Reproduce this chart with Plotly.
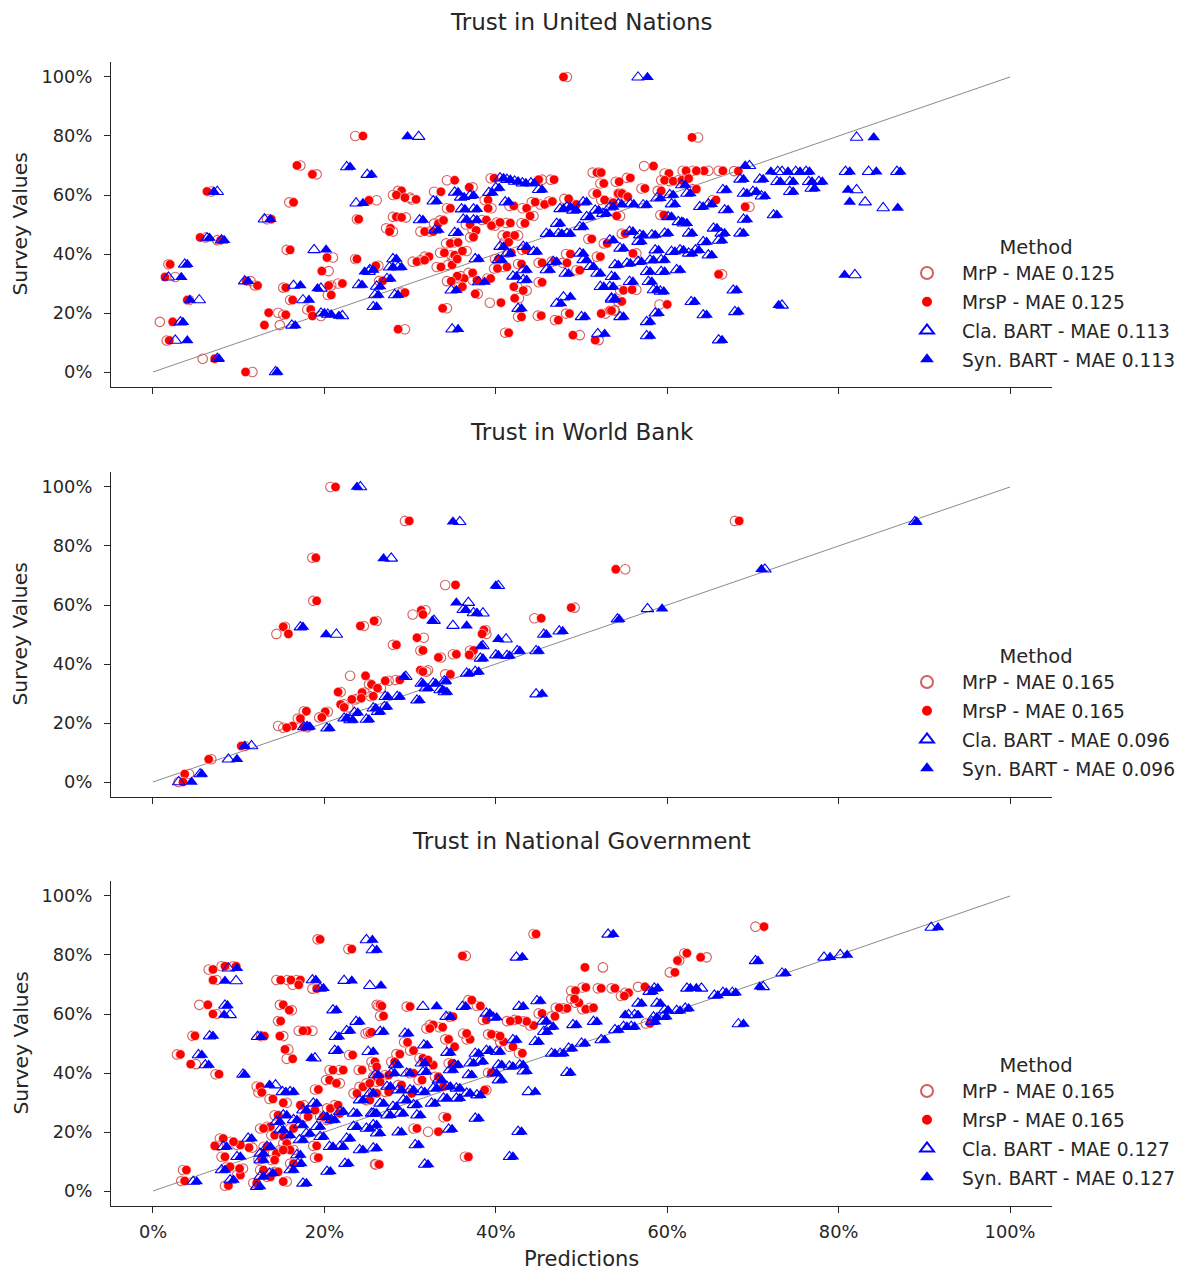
import plotly.graph_objects as go

# ---------------- data (values in percent) ----------------
TICKS = [0, 20, 40, 60, 80, 100]
TICK_LABELS = ["0%", "20%", "40%", "60%", "80%", "100%"]
DIAG = [0, 100]

PANEL_TITLES = ["Trust in United Nations", "Trust in World Bank", "Trust in National Government"]
MAE_MRP = ["0.125", "0.165", "0.165"]
MAE_MRSP = ["0.125", "0.165", "0.165"]
MAE_CLA = ["0.113", "0.096", "0.127"]
MAE_SYN = ["0.113", "0.096", "0.127"]

# rows: (survey value, MrP prediction, MrsP prediction)
UN_RED = [
    (80.0, 23.6, 24.5), (70.0, 17.2, 16.8), (67.0, 19.1, 18.6), (61.2, 6.8, 6.3), (57.5, 15.9, 16.4),
    (58.2, 26.1, 25.2), (51.8, 23.8, 24.0), (51.8, 13.3, 13.8), (45.6, 6.1, 5.5), (44.7, 7.5, 7.9),
    (41.4, 15.6, 16.0), (38.8, 21.0, 20.3), (36.5, 1.8, 2.0), (32.2, 2.6, 1.4), (38.3, 23.6, 23.8),
    (34.2, 20.5, 19.7), (30.8, 11.4, 10.9), (29.3, 11.9, 12.2), (28.6, 15.2, 15.5), (29.3, 20.8, 20.5),
    (30.0, 21.6, 22.1), (24.4, 4.2, 4.0), (24.4, 16.0, 16.3), (26.1, 20.4, 20.8), (20.1, 14.6, 13.5),
    (19.4, 15.2, 15.5), (21.2, 18.0, 18.4), (19.0, 19.6, 18.6), (17.0, 0.8, 2.3), (15.9, 14.8, 13.0),
    (10.7, 1.6, 1.9), (4.5, 5.8, 7.2), (0.0, 11.6, 10.8),
    (100.0, 48.3, 47.9), (65.7, 39.4, 39.8), (65.2, 45.4, 45.0), (65.2, 46.4, 46.8), (65.0, 34.3, 35.2),
    (62.6, 37.3, 36.9), (61.4, 28.6, 29.0), (60.0, 28.0, 28.4), (59.1, 30.0, 29.4), (58.5, 30.2, 30.7),
    (61.1, 32.8, 33.6), (55.5, 34.3, 34.7), (58.3, 38.7, 39.1), (55.5, 39.5, 39.1), (56.3, 41.6, 42.1),
    (55.5, 43.1, 43.6), (52.9, 44.4, 44.0), (57.6, 44.2, 44.6), (56.8, 45.2, 45.7), (57.8, 46.2, 46.6),
    (58.7, 48.0, 48.5), (56.8, 49.0, 49.4), (50.4, 43.0, 43.4), (50.5, 41.2, 41.7), (46.3, 40.8, 41.3),
    (46.3, 42.6, 42.2), (44.0, 41.0, 41.5), (51.5, 38.4, 38.9), (49.6, 39.9, 39.5), (50.7, 40.1, 40.5),
    (50.0, 36.5, 37.0), (48.0, 37.3, 37.7), (45.7, 37.0, 37.4), (50.3, 32.8, 33.3), (51.4, 33.5, 33.9),
    (47.6, 31.2, 31.7), (47.6, 32.3, 32.7), (48.7, 27.2, 27.7), (47.6, 28.0, 27.6), (52.6, 28.0, 28.4),
    (52.4, 29.5, 29.0), (43.6, 34.2, 34.7), (43.9, 35.1, 35.6), (40.4, 33.5, 34.0), (39.6, 34.8, 35.2),
    (41.0, 36.6, 36.1), (39.1, 31.7, 32.2), (35.6, 33.1, 33.6), (37.4, 30.3, 30.8), (37.9, 31.2, 31.7),
    (36.3, 34.4, 34.9), (38.3, 35.1, 35.5), (31.7, 35.8, 36.3), (32.5, 35.9, 35.5), (30.8, 34.3, 34.8),
    (28.9, 35.7, 36.1), (33.6, 36.8, 37.3), (31.1, 37.3, 37.8), (31.7, 39.0, 39.4), (35.1, 39.8, 40.2),
    (35.6, 40.9, 41.3), (38.3, 39.9, 40.3), (40.4, 41.4, 41.8), (36.6, 42.6, 43.0), (41.4, 43.1, 43.5),
    (37.0, 45.0, 45.4), (37.4, 46.5, 46.9), (37.0, 47.8, 48.3), (40.0, 48.2, 48.7), (34.5, 49.4, 49.8),
    (30.4, 45.0, 45.4), (28.9, 42.5, 42.1), (27.6, 43.6, 43.2), (25.0, 42.7, 42.2), (23.5, 39.3, 40.6),
    (18.7, 42.6, 43.0), (19.1, 44.9, 45.3), (17.6, 46.9, 47.3), (19.8, 48.2, 48.6), (13.3, 41.1, 41.5),
    (12.5, 49.8, 49.0), (21.6, 34.3, 33.8), (26.5, 37.9, 37.6), (14.5, 29.4, 28.6), (36.0, 26.3, 26.0),
    (30.9, 26.4, 26.8), (26.9, 29.0, 29.4), (67.6, 51.3, 51.8), (67.6, 52.0, 52.3), (63.9, 52.2, 52.6),
    (60.5, 51.4, 51.8), (58.3, 52.3, 52.7), (57.4, 53.3, 53.7), (60.5, 54.7, 54.3), (45.1, 50.8, 51.2),
    (39.1, 51.8, 52.2), (43.6, 52.6, 53.0), (19.8, 52.8, 52.3), (20.9, 53.8, 53.3), (10.8, 52.0, 51.6),
    (79.5, 63.6, 62.9), (69.8, 57.3, 58.4), (67.3, 59.7, 60.2), (68.2, 61.8, 62.2), (68.2, 64.8, 64.3),
    (68.2, 63.0, 63.4), (68.2, 66.0, 66.5), (68.1, 67.8, 68.3), (65.0, 59.3, 59.7), (64.7, 60.3, 60.7),
    (65.0, 61.3, 61.7), (65.6, 62.1, 62.5), (62.0, 63.0, 63.4), (62.2, 57.0, 57.4), (65.8, 55.3, 55.7),
    (64.5, 54.0, 54.4), (60.5, 54.3, 54.7), (59.4, 55.0, 55.4), (52.9, 54.5, 54.1), (61.4, 58.9, 59.3),
    (56.0, 69.6, 69.1), (58.3, 65.3, 65.7), (53.2, 59.2, 59.6), (46.9, 54.7, 55.1), (40.2, 56.4, 56.0),
    (33.1, 66.4, 66.0), (27.7, 54.5, 54.9), (27.9, 56.4, 55.9), (20.8, 53.9, 53.5), (23.9, 54.3, 54.7),
    (22.9, 59.1, 60.0),
]

# rows: (survey value, Cla. BART prediction, Syn. BART prediction)
UN_BLUE = [
    (69.5, 22.6, 23.0), (66.9, 25.0, 25.5), (61.1, 7.5, 7.1), (57.2, 23.7, 24.5), (51.8, 13.0, 13.7),
    (45.4, 6.3, 6.6), (44.7, 8.0, 8.3), (41.4, 18.8, 20.2), (36.5, 3.7, 4.0), (32.1, 1.8, 3.3),
    (34.0, 25.2, 24.7), (30.8, 10.7, 11.1), (29.3, 16.4, 17.2), (28.3, 19.6, 19.2), (29.5, 24.0, 24.4),
    (24.4, 5.4, 4.3), (24.4, 17.5, 18.2), (19.9, 19.6, 20.0), (19.5, 20.4, 20.8), (19.0, 22.1, 21.7),
    (16.9, 3.2, 3.5), (15.8, 16.2, 16.6), (10.7, 2.6, 4.0), (4.5, 7.5, 7.7), (0.0, 14.3, 14.5),
    (79.8, 31.0, 29.7), (65.7, 40.5, 40.9), (65.2, 41.3, 41.7), (64.6, 42.2, 42.6), (64.0, 43.1, 43.5),
    (64.0, 44.1, 44.5), (61.8, 45.0, 45.4), (62.4, 40.0, 40.4), (60.9, 35.2, 35.6), (59.2, 35.9, 36.3),
    (59.8, 37.0, 37.4), (60.8, 39.2, 39.6), (57.9, 32.7, 33.1), (55.2, 36.0, 36.4), (55.2, 37.4, 37.8),
    (51.5, 37.4, 37.8), (51.7, 36.2, 36.6), (47.2, 35.2, 35.6), (48.1, 32.9, 33.3), (51.5, 31.1, 31.5),
    (57.6, 41.1, 41.5), (46.9, 45.9, 46.3), (50.3, 47.1, 47.5), (55.3, 47.5, 47.9), (55.9, 48.3, 48.7),
    (54.8, 49.0, 49.4), (57.6, 50.2, 50.6), (46.9, 47.3, 47.7), (46.9, 48.3, 48.7), (49.2, 49.8, 50.2),
    (52.6, 50.6, 51.0), (54.8, 51.6, 52.0), (53.7, 52.5, 52.9), (55.9, 53.3, 53.7), (42.5, 40.5, 40.9),
    (40.2, 41.3, 41.7), (38.0, 40.3, 40.7), (42.5, 43.2, 43.6), (40.8, 44.4, 44.8), (34.6, 43.2, 43.6),
    (32.4, 42.0, 42.4), (31.2, 43.2, 43.6), (34.6, 45.9, 46.3), (37.4, 46.7, 47.1), (33.4, 48.1, 48.5),
    (40.2, 49.8, 50.2), (38.0, 50.2, 50.6), (35.7, 51.0, 51.4), (33.4, 51.8, 52.2), (28.9, 52.2, 52.6),
    (28.9, 53.3, 53.7), (21.5, 42.6, 43.0), (25.4, 47.9, 48.7), (23.2, 47.1, 47.6), (18.7, 50.0, 50.4),
    (12.9, 51.9, 52.7), (25.0, 53.5, 53.9), (14.5, 34.9, 35.6), (27.7, 34.8, 35.4), (30.5, 38.0, 38.7),
    (38.3, 37.6, 38.0), (38.3, 28.0, 28.4), (35.5, 27.6, 28.0), (35.5, 28.6, 29.0), (31.6, 27.3, 27.7),
    (29.0, 26.1, 26.5), (26.1, 28.2, 28.6), (26.1, 25.9, 26.3), (22.1, 25.7, 26.1), (34.6, 25.3, 25.7),
    (99.9, 56.6, 57.7), (79.5, 82.1, 84.1), (69.9, 69.6, 69.1), (67.9, 72.9, 72.1), (67.9, 73.4, 74.1),
    (67.9, 75.0, 75.5), (67.9, 76.2, 76.6), (67.9, 80.8, 81.3), (67.9, 83.5, 84.4), (67.9, 86.8, 87.2),
    (65.3, 68.5, 68.9), (65.3, 70.8, 71.2), (64.5, 72.8, 73.2), (64.5, 74.3, 74.7), (64.5, 76.5, 76.9),
    (64.5, 77.7, 78.1), (63.4, 61.7, 62.1), (61.7, 66.5, 66.9), (60.5, 68.9, 69.3), (61.1, 70.0, 70.4),
    (61.1, 74.3, 74.7), (62.2, 76.8, 77.2), (61.7, 82.1, 81.1), (57.6, 83.1, 81.3), (55.6, 85.2, 86.9),
    (56.9, 54.3, 54.7), (56.9, 55.7, 56.1), (56.6, 57.2, 57.6), (58.9, 58.8, 59.2), (60.0, 60.3, 60.7),
    (60.5, 62.3, 62.7), (56.9, 60.5, 60.9), (56.0, 63.8, 64.2), (56.9, 64.8, 65.2), (54.9, 66.7, 67.1),
    (59.6, 71.0, 71.4), (53.2, 72.4, 72.8), (51.7, 68.9, 69.3), (52.6, 60.1, 60.5), (50.9, 61.3, 61.7),
    (50.4, 61.9, 62.3), (47.0, 62.5, 62.9), (48.7, 65.4, 65.8), (47.0, 66.3, 66.7), (47.0, 68.5, 68.9),
    (47.6, 55.6, 56.0), (46.4, 56.8, 57.2), (44.7, 53.3, 53.7), (41.9, 54.5, 54.9), (44.2, 56.6, 57.0),
    (46.4, 58.2, 58.6), (47.0, 59.7, 60.1), (41.3, 58.6, 59.0), (38.0, 59.3, 59.7), (40.8, 60.5, 60.9),
    (41.3, 61.5, 61.9), (40.2, 62.5, 62.9), (41.3, 63.3, 63.7), (44.1, 64.2, 64.6), (39.6, 64.8, 65.2),
    (44.6, 66.0, 66.4), (36.3, 53.9, 54.3), (36.8, 55.3, 55.7), (37.4, 56.6, 57.0), (37.9, 58.0, 58.4),
    (34.0, 57.6, 58.0), (34.0, 59.3, 59.7), (34.6, 61.1, 61.5), (32.3, 53.5, 53.9), (30.6, 55.6, 56.0),
    (30.6, 57.8, 58.2), (27.8, 58.4, 58.8), (27.3, 59.2, 59.6), (27.7, 67.7, 68.1), (24.6, 53.5, 53.9),
    (18.7, 54.5, 54.9), (17.0, 57.6, 58.0), (19.9, 58.6, 59.0), (23.8, 62.8, 63.2), (19.3, 64.2, 64.6),
    (20.4, 67.9, 68.3), (22.6, 73.4, 73.0), (12.2, 57.6, 58.0), (10.8, 66.0, 66.4), (32.9, 81.9, 80.7),
]

WB_RED = [
    (100.0, 20.7, 21.3), (88.5, 29.4, 29.9), (76.0, 18.6, 19.0), (61.4, 18.7, 19.1), (66.8, 34.1, 35.3),
    (58.2, 31.8, 31.3), (56.8, 30.3, 31.5), (52.6, 15.4, 15.2), (50.2, 14.4, 15.8), (52.9, 24.6, 24.2),
    (54.6, 26.1, 25.8), (46.5, 28.0, 28.4), (48.9, 31.6, 30.8), (44.6, 31.2, 31.5), (42.2, 33.6, 33.3),
    (43.3, 35.0, 35.4), (44.6, 37.0, 37.4), (37.9, 32.1, 31.2), (37.4, 31.9, 31.5), (36.5, 34.1, 34.7),
    (36.0, 23.0, 24.8), (34.3, 27.5, 27.1), (34.6, 28.3, 28.8), (33.1, 25.2, 25.5), (31.8, 26.6, 26.2),
    (30.5, 21.9, 21.6), (30.3, 24.7, 24.4), (28.0, 23.6, 23.2), (28.4, 24.0, 24.3), (29.1, 25.4, 25.7),
    (26.3, 22.3, 21.9), (25.3, 22.8, 22.3), (24.0, 17.6, 17.9), (21.5, 16.9, 17.2), (23.8, 20.4, 20.1),
    (21.9, 19.4, 19.7), (19.0, 14.6, 16.3), (18.4, 15.2, 15.6), (18.6, 18.0, 17.6), (12.2, 10.7, 10.3),
    (7.7, 6.8, 6.5), (2.7, 4.2, 3.7), (0.0, 3.0, 3.5),
    (88.5, 67.9, 68.4), (72.1, 55.1, 54.0), (59.1, 49.2, 48.8), (55.5, 44.5, 45.3), (51.5, 38.8, 38.6),
    (50.2, 38.9, 38.4), (43.1, 37.1, 36.9),
]

WB_BLUE = [
    (100.0, 24.2, 23.8), (88.2, 35.8, 35.0), (75.8, 27.8, 26.9), (60.8, 36.8, 35.4), (58.4, 36.2, 36.5),
    (57.3, 37.4, 37.8), (54.7, 32.8, 32.6), (53.0, 35.0, 36.6), (52.5, 17.2, 17.5), (50.0, 21.4, 20.2),
    (35.7, 29.5, 29.3), (33.4, 31.3, 31.5), (31.8, 31.8, 32.1), (33.4, 32.7, 33.0), (31.2, 33.5, 33.8),
    (30.5, 34.0, 34.3), (34.2, 34.0, 34.2), (27.7, 30.8, 31.1), (28.9, 28.5, 28.8), (25.5, 27.0, 27.3),
    (23.8, 26.2, 26.5), (25.0, 25.7, 26.0), (28.9, 27.1, 27.4), (23.5, 23.5, 23.9), (21.6, 22.3, 22.6),
    (21.0, 23.0, 23.3), (21.2, 24.9, 25.2), (18.2, 20.3, 20.6), (18.7, 18.0, 18.3), (18.7, 17.6, 17.9),
    (12.2, 11.5, 10.7), (7.7, 8.8, 9.8), (2.7, 5.5, 5.7), (0.0, 3.0, 4.5), (36.8, 36.6, 36.9),
    (88.2, 88.9, 89.1), (72.1, 71.4, 71.0), (58.7, 57.7, 59.4), (55.2, 54.2, 54.4), (66.5, 40.3, 40.0),
    (57.2, 38.5, 37.8), (48.4, 41.2, 40.3), (50.0, 45.6, 45.9), (51.1, 47.4, 47.8), (46.1, 38.5, 38.3),
    (41.9, 38.2, 38.5), (43.0, 40.0, 40.3), (42.8, 41.3, 41.6), (44.4, 42.5, 42.8), (44.4, 44.7, 45.0),
    (37.4, 37.6, 38.0), (29.8, 44.7, 45.4),
]

NG_RED = [
    (85.3, 19.2, 19.5), (82.0, 22.8, 23.2), (75.1, 6.5, 7.0), (76.2, 8.0, 8.4), (76.2, 9.4, 9.7),
    (71.5, 7.4, 7.0), (71.5, 14.4, 14.9), (71.5, 15.7, 16.1), (71.5, 16.8, 17.2), (69.9, 16.3, 17.0),
    (68.6, 18.6, 19.1), (63.1, 5.4, 6.4), (60.0, 7.4, 7.0), (63.1, 14.8, 15.2), (61.3, 16.2, 15.9),
    (57.6, 14.6, 14.9), (54.3, 17.0, 18.0), (54.3, 18.6, 17.5), (52.6, 4.6, 4.9), (52.5, 12.6, 13.0),
    (52.5, 15.2, 14.8), (48.0, 15.8, 15.4), (44.8, 15.6, 16.3), (46.3, 2.8, 3.2), (43.0, 5.0, 4.4),
    (39.6, 7.3, 7.7), (63.1, 26.1, 26.5), (46.1, 22.9, 23.3), (41.0, 20.6, 21.0), (37.6, 20.2, 20.6),
    (36.5, 21.8, 21.4), (41.0, 21.8, 22.2), (53.4, 24.8, 25.3), (35.4, 12.1, 12.5), (33.4, 12.3, 12.7),
    (31.2, 13.6, 14.0), (29.9, 15.6, 15.2), (25.7, 14.2, 14.6), (21.8, 13.3, 13.7), (21.2, 12.5, 12.9),
    (18.9, 13.8, 14.2), (18.4, 15.6, 15.2), (21.2, 16.0, 16.4), (29.1, 17.6, 17.2), (25.2, 17.7, 18.1),
    (27.4, 18.5, 18.9), (34.4, 18.9, 19.3), (25.2, 19.5, 19.9), (28.0, 20.3, 20.7), (29.1, 21.2, 21.6),
    (26.3, 21.4, 21.8), (33.1, 23.4, 23.8), (35.3, 24.1, 24.5), (30.8, 24.9, 25.3), (38.7, 25.7, 26.1),
    (41.0, 24.0, 24.4), (24.1, 20.3, 20.7), (16.1, 15.2, 15.6), (13.9, 16.4, 16.0), (12.7, 14.0, 14.4),
    (15.0, 12.9, 13.3), (14.7, 11.6, 11.2), (15.6, 9.8, 10.2), (16.7, 9.0, 9.4), (17.8, 7.8, 8.2),
    (15.3, 7.6, 7.2), (11.6, 8.0, 8.4), (8.2, 8.6, 9.0), (5.4, 9.8, 10.2), (7.6, 10.5, 10.1),
    (7.1, 12.5, 12.9), (4.8, 13.3, 13.7), (6.5, 14.2, 14.6), (9.3, 16.0, 16.4), (3.2, 15.6, 15.2),
    (2.7, 11.7, 12.1), (1.8, 8.4, 8.8), (3.4, 3.3, 3.7), (7.1, 3.5, 3.9), (10.7, 12.3, 12.7),
    (10.5, 13.8, 14.2), (13.9, 14.8, 15.2), (11.3, 18.9, 19.3), (15.3, 18.7, 19.1), (9.1, 25.9, 26.3),
    (87.1, 44.4, 44.7), (79.7, 36.5, 36.1), (75.8, 52.5, 50.4), (68.7, 53.5, 53.9), (67.9, 48.8, 49.3),
    (69.0, 50.1, 50.5), (68.7, 51.9, 52.3), (63.8, 49.3, 49.7), (61.9, 47.9, 48.3), (62.1, 47.0, 47.4),
    (61.6, 50.1, 50.5), (62.1, 51.0, 51.4), (65.1, 48.8, 49.2), (60.2, 45.0, 45.4), (56.1, 44.0, 44.4),
    (57.5, 43.2, 43.6), (58.0, 42.2, 42.6), (57.6, 41.3, 41.7), (50.6, 40.5, 40.9), (46.7, 42.7, 43.1),
    (48.9, 41.6, 42.0), (59.2, 46.5, 46.9), (64.7, 36.8, 37.2), (62.7, 37.8, 38.2), (58.0, 38.5, 38.9),
    (53.1, 39.1, 39.5), (51.4, 36.6, 37.0), (48.9, 34.8, 35.2), (51.4, 34.1, 34.5), (55.5, 33.4, 33.8),
    (56.3, 32.3, 32.7), (55.1, 31.9, 32.3), (59.1, 34.6, 35.0), (53.4, 36.2, 36.6), (52.5, 40.1, 40.5),
    (62.5, 29.6, 30.0), (62.7, 26.3, 26.7), (59.3, 26.5, 26.9), (53.8, 25.1, 25.5), (50.4, 29.3, 29.7),
    (47.6, 30.0, 30.4), (45.0, 31.1, 31.5), (42.7, 32.3, 32.7), (44.4, 31.7, 32.1), (46.4, 28.4, 28.8),
    (43.8, 27.8, 28.2), (43.8, 25.5, 25.9), (42.1, 25.7, 26.1), (39.3, 27.1, 27.5), (38.7, 26.1, 26.5),
    (39.9, 30.0, 30.4), (43.3, 34.5, 34.9), (38.7, 32.9, 33.3), (36.5, 24.9, 25.3), (37.0, 26.1, 26.5),
    (33.6, 27.1, 27.5), (33.1, 25.7, 26.1), (35.9, 28.6, 29.0), (37.6, 31.0, 31.4), (33.1, 29.8, 30.2),
    (35.4, 33.5, 33.9), (34.2, 38.9, 38.7), (40.1, 39.1, 39.5), (25.0, 33.9, 34.3), (20.1, 32.1, 33.3),
    (21.2, 30.4, 30.8), (11.6, 36.4, 36.8), (9.0, 26.0, 26.4),
    (89.6, 70.3, 71.3), (80.6, 62.0, 62.3), (79.2, 64.6, 63.9), (78.1, 61.4, 61.2), (74.1, 60.3, 60.9),
    (67.2, 55.1, 55.5), (66.1, 54.6, 55.0), (69.2, 56.6, 57.4), (56.8, 57.5, 58.0),
]

NG_BLUE = [
    (85.1, 24.9, 25.6), (81.7, 25.6, 26.1), (75.5, 8.8, 9.8), (71.2, 9.7, 8.4), (71.5, 18.6, 19.0),
    (68.7, 19.5, 19.9), (71.3, 22.3, 23.2), (69.6, 25.3, 26.6), (62.9, 8.4, 8.7), (59.7, 9.0, 8.3),
    (61.3, 21.0, 21.4), (52.5, 6.6, 7.0), (52.3, 12.2, 12.6), (46.1, 5.3, 5.7), (42.7, 6.1, 6.5),
    (39.5, 10.5, 10.7), (45.0, 18.9, 18.5), (47.6, 21.2, 21.6), (54.3, 22.6, 23.0), (52.3, 21.3, 21.7),
    (57.4, 23.7, 24.1), (47.2, 25.1, 25.7), (35.9, 14.3, 13.6), (33.6, 15.1, 15.5), (33.6, 16.0, 16.4),
    (25.7, 15.2, 15.6), (23.5, 14.4, 14.8), (24.1, 16.4, 16.8), (27.4, 17.5, 17.9), (29.7, 18.7, 19.1),
    (22.4, 17.1, 17.5), (19.5, 17.9, 18.3), (21.8, 19.1, 19.5), (25.2, 19.9, 20.3), (24.1, 20.8, 21.2),
    (26.9, 21.8, 22.2), (26.3, 23.4, 23.8), (30.8, 24.1, 24.5), (33.1, 25.3, 25.7), (26.3, 25.7, 26.1),
    (21.2, 24.9, 25.3), (21.8, 23.4, 23.8), (17.8, 22.6, 23.0), (15.0, 21.8, 22.2), (15.0, 20.6, 21.0),
    (18.4, 19.5, 19.9), (17.3, 17.1, 17.5), (18.9, 15.6, 16.0), (20.7, 14.8, 15.2), (15.0, 13.3, 13.7),
    (12.7, 12.5, 12.9), (10.5, 12.5, 12.9), (12.2, 16.8, 17.2), (9.3, 16.9, 17.3), (7.1, 16.0, 16.4),
    (6.0, 13.6, 14.0), (4.9, 12.5, 12.9), (1.5, 12.1, 12.5), (2.6, 17.5, 17.9), (6.6, 20.3, 20.7),
    (9.3, 22.4, 22.8), (13.9, 24.1, 24.5), (14.5, 25.7, 26.1), (15.0, 8.2, 8.6), (11.6, 9.8, 10.2),
    (7.1, 8.0, 8.4), (3.7, 9.0, 9.4), (3.2, 4.7, 5.1), (17.8, 11.1, 11.5),
    (87.0, 53.1, 53.7), (79.2, 42.4, 43.1), (62.5, 31.5, 33.1), (62.5, 36.1, 36.5), (62.5, 42.7, 43.2),
    (64.4, 44.8, 45.2), (59.1, 34.2, 34.7), (60.2, 38.9, 39.3), (58.8, 39.7, 40.1), (57.5, 45.5, 45.9),
    (55.7, 46.3, 46.7), (54.0, 45.6, 46.0), (56.3, 49.0, 49.4), (57.4, 51.4, 51.8), (54.0, 26.5, 26.9),
    (53.4, 29.4, 29.8), (49.4, 31.6, 32.0), (46.9, 34.3, 34.7), (47.2, 40.1, 40.5), (47.6, 38.9, 39.3),
    (46.6, 37.6, 38.0), (50.6, 44.6, 45.0), (51.2, 42.0, 42.4), (46.6, 46.5, 46.9), (46.6, 47.5, 47.9),
    (48.3, 48.5, 48.9), (50.0, 50.0, 50.4), (51.2, 52.3, 52.7), (40.1, 48.3, 48.7), (42.7, 42.8, 43.2),
    (40.6, 43.2, 43.6), (42.2, 41.6, 42.0), (42.7, 40.3, 40.7), (39.9, 39.7, 40.1), (37.6, 40.3, 40.7),
    (33.6, 43.8, 44.6), (42.7, 35.2, 35.6), (43.3, 37.0, 37.4), (43.9, 38.1, 38.5), (39.3, 36.8, 37.2),
    (41.0, 34.6, 35.0), (37.6, 33.3, 33.7), (40.4, 31.5, 31.9), (43.3, 31.3, 31.7), (39.9, 29.6, 30.0),
    (42.7, 28.2, 28.6), (39.9, 27.8, 28.2), (39.3, 25.9, 26.3), (35.4, 27.3, 27.7), (34.2, 28.6, 29.0),
    (34.2, 30.0, 30.4), (33.6, 31.3, 31.7), (34.8, 32.7, 33.1), (35.4, 34.3, 34.7), (34.8, 35.4, 35.8),
    (33.1, 36.6, 37.0), (32.5, 37.8, 38.2), (31.4, 33.9, 34.3), (31.4, 35.4, 35.8), (29.7, 32.5, 32.9),
    (29.2, 30.4, 30.8), (30.8, 29.2, 29.6), (28.6, 28.0, 28.4), (29.7, 26.5, 26.9), (26.3, 25.5, 25.9),
    (25.7, 27.3, 27.7), (26.3, 28.8, 29.2), (25.7, 30.8, 31.2), (22.4, 25.7, 26.1), (19.6, 26.1, 26.5),
    (19.9, 28.6, 29.0), (15.6, 30.6, 31.0), (9.0, 31.7, 32.1), (24.6, 37.6, 38.0), (20.9, 34.5, 34.9),
    (20.1, 42.6, 43.0), (11.6, 41.6, 42.0),
    (78.0, 70.3, 70.6), (79.2, 78.3, 79.0), (80.0, 80.2, 81.0), (73.8, 73.4, 73.8), (69.2, 71.2, 70.8),
    (68.7, 64.0, 63.4), (68.7, 62.3, 62.7), (68.7, 58.5, 58.9), (66.3, 65.5, 65.9), (67.2, 66.5, 66.9),
    (67.2, 67.6, 68.0), (67.6, 57.9, 58.3), (63.6, 56.6, 57.0), (63.6, 58.8, 59.2), (61.3, 59.7, 60.1),
    (61.1, 61.1, 61.5), (61.9, 62.1, 62.5), (59.7, 56.2, 56.6), (58.9, 58.4, 58.8), (59.1, 59.5, 59.9),
    (59.7, 55.5, 55.1), (55.7, 55.8, 56.2), (57.4, 58.2, 58.6), (54.6, 53.9, 54.3), (55.7, 54.9, 55.3),
    (56.6, 68.3, 68.9), (89.3, 90.8, 91.6),
]

PANELS = [(UN_RED, UN_BLUE), (WB_RED, WB_BLUE), (NG_RED, NG_BLUE)]

# ---------------- layout helpers ----------------
W, H = 1184, 1273
FONT = "DejaVu Sans"
TXT = "#262626"


def px(xp):
    return xp / W


def py(yp):
    return 1 - yp / H


# plot areas in pixels (top, bottom)
PANEL_PX = [(62, 387), (472, 797), (881, 1206)]
X_LEFT, X_RIGHT = 111, 1052

fig = go.Figure()
layout = dict(
    width=W, height=H, autosize=False,
    margin=dict(l=0, r=0, t=0, b=0),
    paper_bgcolor="white", plot_bgcolor="white",
    font=dict(family=FONT, color=TXT, size=17),
    annotations=[],
    showlegend=True,
)

for i, (red, blue) in enumerate(PANELS):
    n = i + 1
    xa = "x" if n == 1 else f"x{n}"
    ya = "y" if n == 1 else f"y{n}"
    lg = "legend" if n == 1 else f"legend{n}"

    ry = [r[0] for r in red]
    rmrp = [r[1] for r in red]
    rmrsp = [r[2] for r in red]
    by = [b[0] for b in blue]
    bcla = [b[1] for b in blue]
    bsyn = [b[2] for b in blue]

    fig.add_trace(go.Scatter(x=DIAG, y=DIAG, mode="lines", xaxis=xa, yaxis=ya,
                             line=dict(color="#8a8a8a", width=1), showlegend=False, hoverinfo="skip"))
    fig.add_trace(go.Scatter(x=rmrp, y=ry, mode="markers", xaxis=xa, yaxis=ya,
                             name=f"MrP - MAE {MAE_MRP[i]}", legend=lg, legendgroup=f"{n}a",
                             marker=dict(symbol="circle-open", size=9.5, color="#d2605e",
                                         line=dict(width=1.1, color="#d2605e"))))
    fig.add_trace(go.Scatter(x=rmrsp, y=ry, mode="markers", xaxis=xa, yaxis=ya,
                             name=f"MrsP - MAE {MAE_MRSP[i]}", legend=lg, legendgroup=f"{n}b",
                             marker=dict(symbol="circle", size=9.5, color="#ff0000",
                                         line=dict(width=0.6, color="white"))))
    fig.add_trace(go.Scatter(x=bcla, y=by, mode="markers", xaxis=xa, yaxis=ya,
                             name=f"Cla. BART - MAE {MAE_CLA[i]}", legend=lg, legendgroup=f"{n}c",
                             marker=dict(symbol="triangle-up-open", size=11, color="#0000ff",
                                         line=dict(width=1.1, color="#0000ff"))))
    fig.add_trace(go.Scatter(x=bsyn, y=by, mode="markers", xaxis=xa, yaxis=ya,
                             name=f"Syn. BART - MAE {MAE_SYN[i]}", legend=lg, legendgroup=f"{n}d",
                             marker=dict(symbol="triangle-up", size=11, color="#0000ff",
                                         line=dict(width=0, color="white"))))

    top, bot = PANEL_PX[i]
    axis_common = dict(
        showline=True, linecolor=TXT, linewidth=1.25, mirror=False,
        ticks="outside", ticklen=6, tickwidth=1.25, tickcolor=TXT,
        showgrid=False, zeroline=False,
        tickmode="array", tickvals=TICKS, ticktext=TICK_LABELS,
        tickfont=dict(family=FONT, size=17.8, color=TXT),
    )
    layout["xaxis" if n == 1 else f"xaxis{n}"] = dict(
        axis_common, domain=[px(X_LEFT), px(X_RIGHT)], range=[-4.9, 104.9],
        anchor=ya, showticklabels=(n == 3), ticklabelstandoff=4,
    )
    layout["yaxis" if n == 1 else f"yaxis{n}"] = dict(
        axis_common, domain=[py(bot), py(top)], range=[-5.08, 105.08],
        anchor=xa, ticklabelstandoff=8,
    )

    off = [0, 409, 818][i]
    layout[lg] = dict(
        x=px(892), xanchor="left", y=py(229 + off), yanchor="top",
        title=dict(text="Method", side="top center", font=dict(family=FONT, size=19.5, color=TXT)),
        font=dict(family=FONT, size=18.6, color=TXT),
        itemsizing="constant", itemwidth=60, tracegroupgap=1.6,
        bgcolor="rgba(0,0,0,0)", borderwidth=0,
    )

    layout["annotations"].append(dict(
        text=PANEL_TITLES[i], x=px((X_LEFT + X_RIGHT) / 2), y=py([22, 432, 841][i]),
        xref="paper", yref="paper", xanchor="center", yanchor="middle", showarrow=False,
        font=dict(family=FONT, size=23, color=TXT)))
    layout["annotations"].append(dict(
        text="Survey Values", x=px(20), y=py((top + bot) / 2), textangle=-90,
        xref="paper", yref="paper", xanchor="center", yanchor="middle", showarrow=False,
        font=dict(family=FONT, size=20.3, color=TXT)))

layout["annotations"].append(dict(
    text="Predictions", x=px((X_LEFT + X_RIGHT) / 2), y=py(1259),
    xref="paper", yref="paper", xanchor="center", yanchor="middle", showarrow=False,
    font=dict(family=FONT, size=21, color=TXT)))

fig.update_layout(**layout)
fig.write_html("out.html")
